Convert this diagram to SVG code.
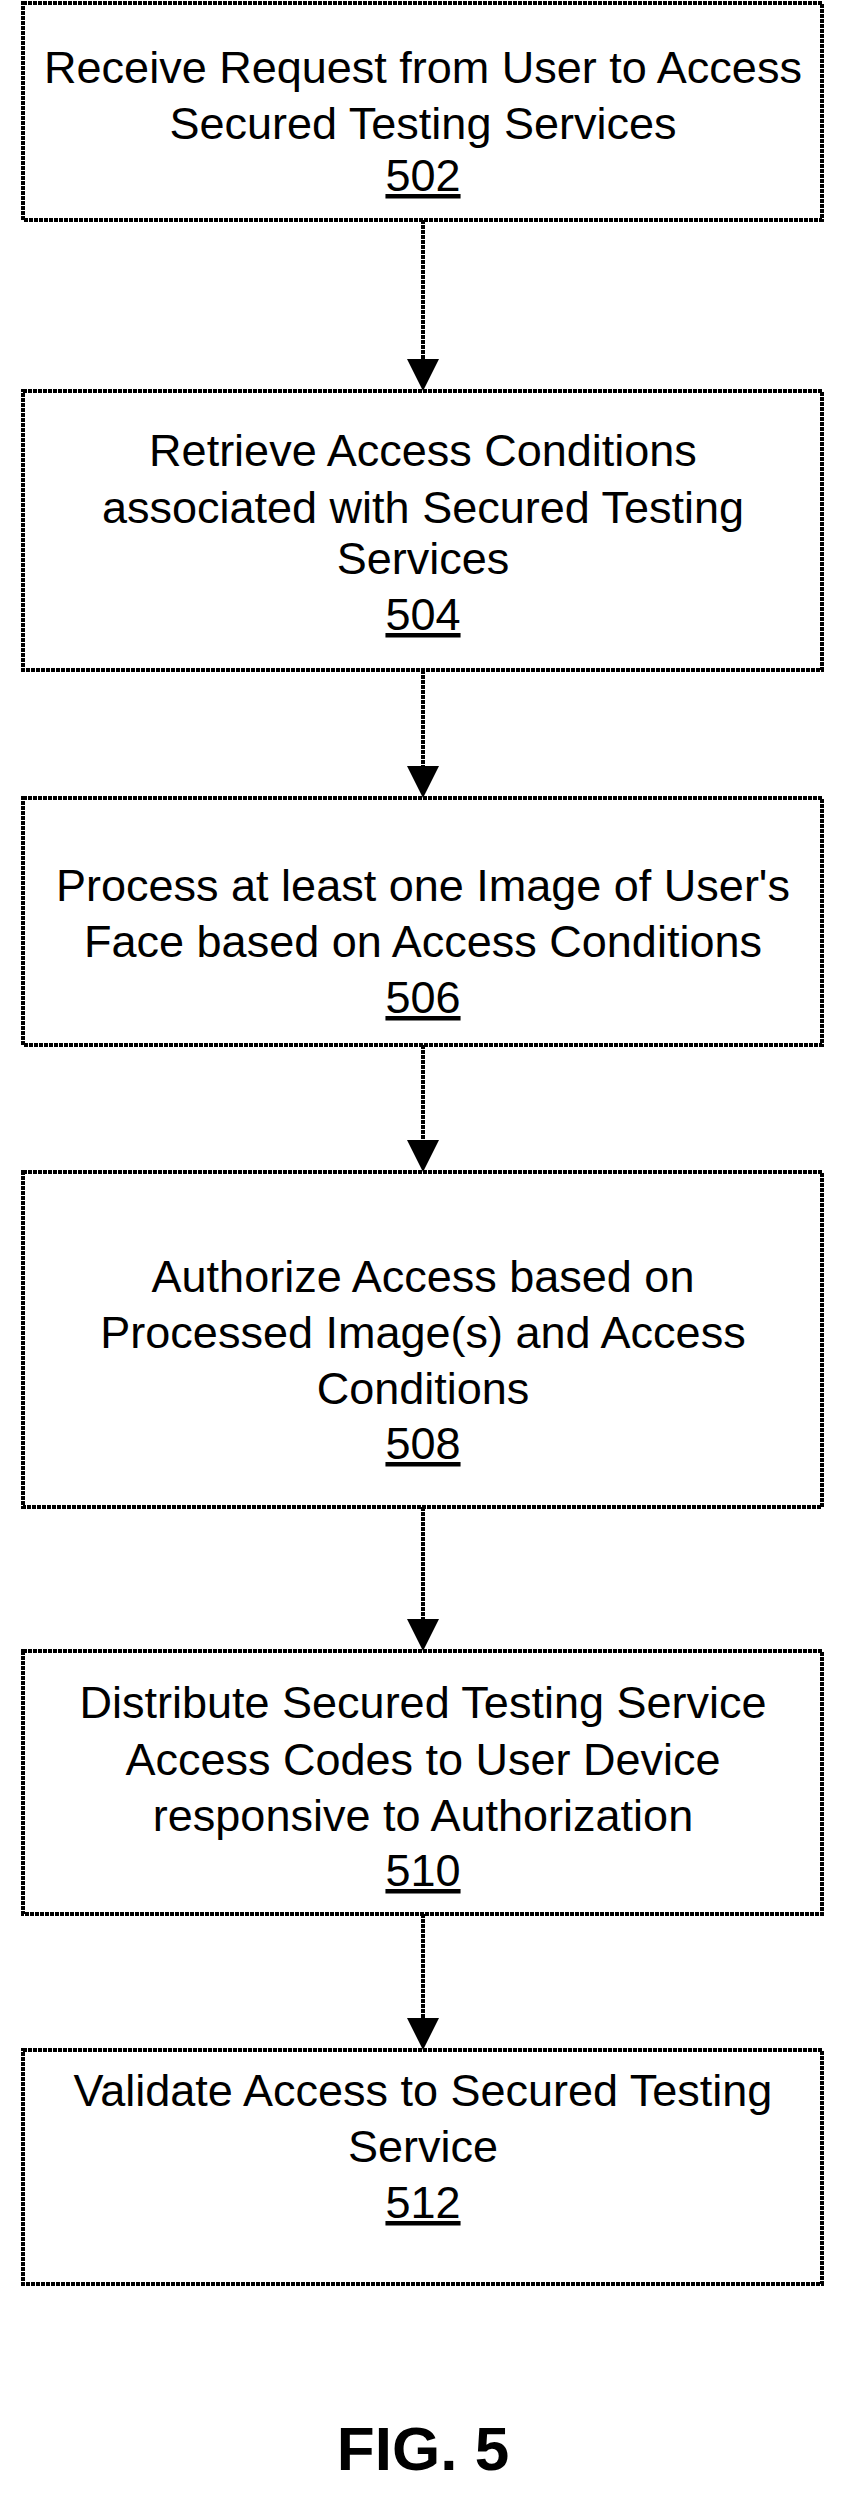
<svg xmlns="http://www.w3.org/2000/svg" width="846" height="2496" viewBox="0 0 846 2496">
<style>
rect{fill:#fff;stroke:#000;stroke-width:4;stroke-dasharray:4 1}
text{font-family:"Liberation Sans",Arial,sans-serif;font-size:45px;text-anchor:middle;fill:#000}
.n{text-decoration:underline}
.fig{font-size:62px;font-weight:bold}
line{stroke:#000;stroke-width:4;stroke-dasharray:4 1}
</style>
<defs><marker id="a" markerWidth="8" markerHeight="8" refX="7" refY="4" orient="auto" markerUnits="strokeWidth"><path d="M0,0 L8,4 L0,8 z" fill="#000"/></marker></defs>
<rect x="0" y="0" width="846" height="2496" style="stroke:none;stroke-dasharray:none"/>
<g id="connectors">
<line x1="423" y1="220" x2="423" y2="387" marker-end="url(#a)"/>
<line x1="423" y1="670" x2="423" y2="794" marker-end="url(#a)"/>
<line x1="423" y1="1045" x2="423" y2="1168" marker-end="url(#a)"/>
<line x1="423" y1="1507" x2="423" y2="1647" marker-end="url(#a)"/>
<line x1="423" y1="1914" x2="423" y2="2046" marker-end="url(#a)"/>
</g>
<g id="n502"><rect x="23" y="3" width="799" height="217"/>
<text x="423" y="83">Receive Request from User to Access</text><text x="423" y="139">Secured Testing Services</text><text class="n" x="423" y="191">502</text></g>
<g id="n504"><rect x="23" y="391" width="799" height="279"/>
<text x="423" y="466">Retrieve Access Conditions</text><text x="423" y="523">associated with Secured Testing</text><text x="423" y="574">Services</text><text class="n" x="423" y="630">504</text></g>
<g id="n506"><rect x="23" y="798" width="799" height="247"/>
<text x="423" y="901">Process at least one Image of User's</text><text x="423" y="957">Face based on Access Conditions</text><text class="n" x="423" y="1013">506</text></g>
<g id="n508"><rect x="23" y="1172" width="799" height="335"/>
<text x="423" y="1292">Authorize Access based on</text><text x="423" y="1348">Processed Image(s) and Access</text><text x="423" y="1404">Conditions</text><text class="n" x="423" y="1459">508</text></g>
<g id="n510"><rect x="23" y="1651" width="799" height="263"/>
<text x="423" y="1718">Distribute Secured Testing Service</text><text x="423" y="1775">Access Codes to User Device</text><text x="423" y="1831">responsive to Authorization</text><text class="n" x="423" y="1886">510</text></g>
<g id="n512"><rect x="23" y="2050" width="799" height="234"/>
<text x="423" y="2106">Validate Access to Secured Testing</text><text x="423" y="2162">Service</text><text class="n" x="423" y="2218">512</text></g>
<text class="fig" x="423" y="2470">FIG. 5</text>
</svg>
